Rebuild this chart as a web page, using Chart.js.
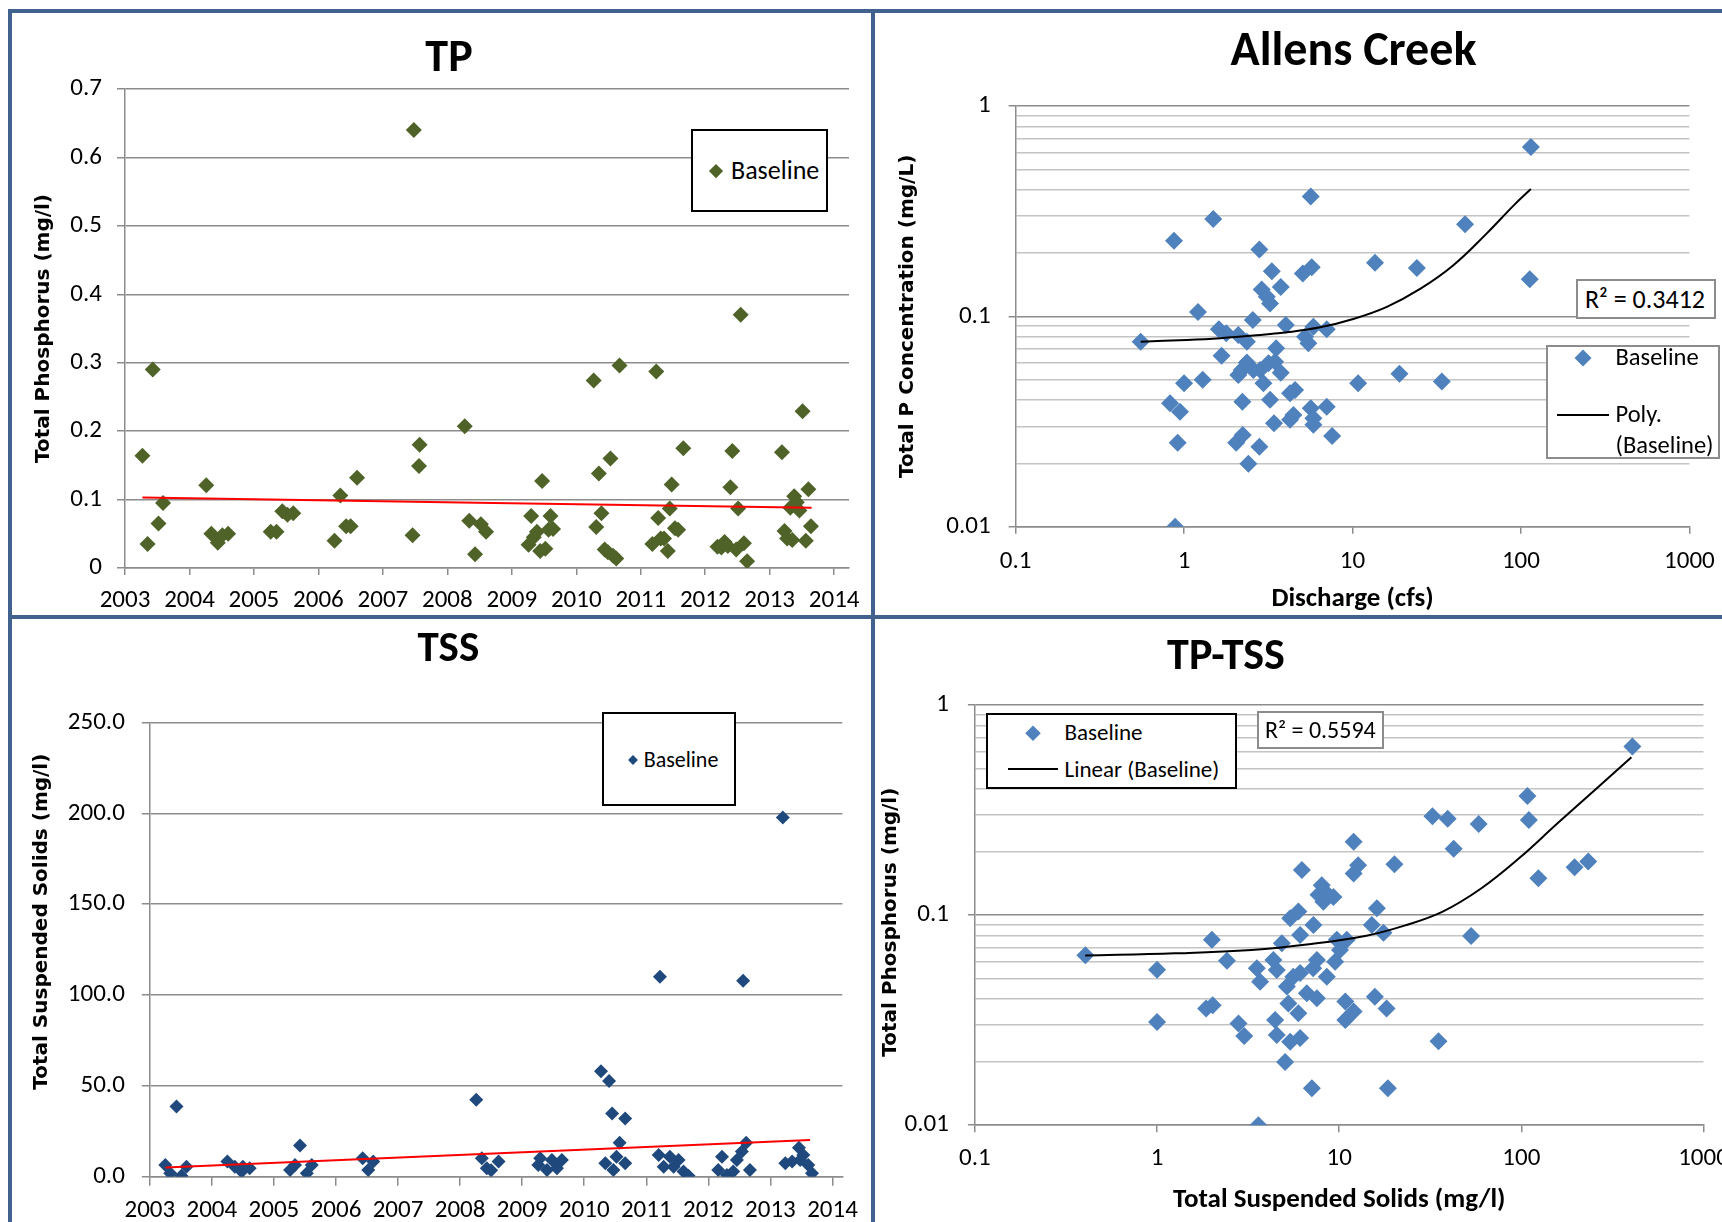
<!DOCTYPE html>
<html>
<head>
<meta charset="utf-8">
<script src="https://cdn.jsdelivr.net/npm/chart.js@4.4.1/dist/chart.umd.min.js"></script>
<style>
  html, body { margin: 0; padding: 0; background: #fff; }
  body { width: 1722px; height: 1222px; overflow: hidden; position: relative; font-family: Carlito, Lato, sans-serif; color: #000; }
  canvas { position: absolute; }
  .rule { position: absolute; background: #41618f; }
  .txt { position: absolute; white-space: nowrap; line-height: 1.2; transform: translateY(-50%); }
  .ttl { position: absolute; white-space: nowrap; line-height: 1.2; font-weight: bold; transform: translate(-50%, -50%); }
  .box { position: absolute; box-sizing: border-box; background: #fff; }
  .dia { position: absolute; transform: translate(-50%, -50%) rotate(45deg); }
  .swatch { position: absolute; height: 2px; background: #000; transform: translateY(-50%); }
</style>
</head>
<body>
<canvas id="tpChart" width="859" height="602" style="left:12px;top:13px"></canvas>
<canvas id="acChart" width="900" height="602" style="left:875px;top:13px"></canvas>
<canvas id="tssChart" width="859" height="620" style="left:12px;top:619px"></canvas>
<canvas id="tptssChart" width="900" height="620" style="left:875px;top:619px"></canvas>

<div class="rule" style="left:8px;top:9px;width:1714px;height:4px"></div>
<div class="rule" style="left:8px;top:9px;width:4px;height:1213px"></div>
<div class="rule" style="left:871px;top:9px;width:4px;height:1213px"></div>
<div class="rule" style="left:8px;top:615px;width:1714px;height:4px"></div>

<script>
// ---- TP over time (mg/l) ----
const tpYear = [2003.27, 2003.35, 2003.43, 2003.52, 2003.59, 2004.26, 2004.34, 2004.44, 2004.51, 2004.60,
  2005.26, 2005.35, 2005.44, 2005.52, 2005.61, 2006.25, 2006.34, 2006.43, 2006.50, 2006.60,
  2007.46, 2007.48, 2007.56, 2007.57, 2008.27, 2008.34, 2008.43, 2008.52, 2008.60,
  2009.26, 2009.30, 2009.34, 2009.39, 2009.44, 2009.47, 2009.52, 2009.57, 2009.60, 2009.64,
  2010.27, 2010.31, 2010.35, 2010.39, 2010.44, 2010.49, 2010.53, 2010.57, 2010.62, 2010.67,
  2011.18, 2011.24, 2011.27, 2011.31, 2011.36, 2011.42, 2011.45, 2011.48, 2011.53, 2011.58, 2011.66,
  2012.19, 2012.25, 2012.30, 2012.35, 2012.39, 2012.42, 2012.48, 2012.51, 2012.55, 2012.60, 2012.65,
  2013.19, 2013.23, 2013.27, 2013.32, 2013.35, 2013.38, 2013.42, 2013.46, 2013.51, 2013.56, 2013.60, 2013.64];
const tpValue = [0.164, 0.035, 0.290, 0.065, 0.095, 0.121, 0.050, 0.037, 0.048, 0.050,
  0.053, 0.053, 0.083, 0.078, 0.080, 0.040, 0.106, 0.061, 0.061, 0.132,
  0.048, 0.640, 0.149, 0.180, 0.207, 0.069, 0.020, 0.064, 0.053,
  0.034, 0.076, 0.045, 0.053, 0.025, 0.127, 0.028, 0.056, 0.076, 0.057,
  0.274, 0.060, 0.138, 0.080, 0.027, 0.023, 0.160, 0.018, 0.014, 0.296,
  0.035, 0.287, 0.073, 0.043, 0.043, 0.025, 0.087, 0.122, 0.058, 0.056, 0.175,
  0.031, 0.030, 0.038, 0.032, 0.118, 0.171, 0.027, 0.087, 0.370, 0.036, 0.010,
  0.169, 0.054, 0.043, 0.088, 0.041, 0.105, 0.096, 0.084, 0.229, 0.040, 0.115, 0.061];
const tpTrendYear = [2003.27, 2013.65];
const tpTrendValue = [0.103, 0.088];

// ---- TSS over time (mg/l) ----
const tssYear = [2003.25, 2003.33, 2003.43, 2003.51, 2003.59, 2004.25, 2004.37, 2004.48, 2004.50, 2004.61,
  2005.26, 2005.34, 2005.42, 2005.53, 2005.61, 2006.43, 2006.52, 2006.60,
  2008.26, 2008.35, 2008.43, 2008.50, 2008.62, 2009.26, 2009.29, 2009.40, 2009.48, 2009.56, 2009.64,
  2010.27, 2010.34, 2010.40, 2010.45, 2010.47, 2010.52, 2010.57, 2010.66, 2010.66,
  2011.20, 2011.22, 2011.28, 2011.38, 2011.44, 2011.52, 2011.60, 2011.68,
  2012.16, 2012.22, 2012.30, 2012.40, 2012.46, 2012.54, 2012.56, 2012.61, 2012.67,
  2013.20, 2013.24, 2013.35, 2013.46, 2013.48, 2013.53, 2013.61, 2013.67];
const tssValue = [6.4, 1.9, 38.6, 0.5, 5.5, 8.3, 5.5, 2.8, 5.5, 4.6,
  3.7, 6.4, 17.2, 1.9, 6.4, 10.1, 3.7, 8.3,
  42.3, 10.1, 4.6, 3.5, 8.3, 6.4, 10.1, 3.7, 9.2, 4.6, 9.2,
  58.0, 7.4, 52.6, 34.8, 3.7, 11.0, 18.7, 32.0, 7.4,
  11.9, 110.0, 5.5, 11.0, 5.5, 9.2, 2.8, 0.5,
  3.7, 11.0, 0.9, 2.8, 9.2, 13.8, 107.8, 18.7, 3.7,
  197.6, 7.4, 8.3, 15.9, 9.2, 11.9, 6.4, 1.9];
const tssTrendYear = [2003.25, 2013.64];
const tssTrendValue = [5.0, 20.2];

// ---- Allens Creek: discharge (cfs) vs TP (mg/L) ----
const acFlow = [0.553, 0.872, 1.49, 5.65, 2.80, 3.32, 5.07, 5.73, 3.75, 2.89, 3.10, 3.24, 1.21, 2.56, 1.61,
  1.78, 2.10, 2.36, 4.02, 5.23, 5.86, 7.03, 5.47, 1.67, 3.52, 2.36, 2.10, 2.58, 2.83, 3.17,
  3.47, 3.75, 2.96, 2.20, 1.00, 1.29, 0.826, 0.946, 2.22, 3.24, 4.26, 4.56, 5.65, 7.03, 3.42,
  4.26, 4.46, 5.86, 5.86, 7.57, 0.917, 2.04, 2.23, 2.80, 2.41, 0.885, 10.8, 13.6, 19.0, 24.1,
  33.9, 46.6, 114.5, 112.8];
const acTP = [0.0758, 0.229, 0.290, 0.371, 0.208, 0.164, 0.160, 0.171, 0.138, 0.134, 0.124, 0.115, 0.105, 0.0962, 0.0868,
  0.0832, 0.0816, 0.0758, 0.0910, 0.0800, 0.0893, 0.0868, 0.0745, 0.0650, 0.0705, 0.0603, 0.0526, 0.0556, 0.0556, 0.0598,
  0.0609, 0.0540, 0.0481, 0.0556, 0.0481, 0.0499, 0.0386, 0.0352, 0.0393, 0.0401, 0.0431, 0.0446, 0.0366, 0.0372, 0.0310,
  0.0322, 0.0340, 0.0305, 0.0328, 0.0270, 0.0251, 0.0251, 0.0273, 0.0240, 0.0199, 0.0100, 0.0481, 0.180, 0.0534, 0.170,
  0.0490, 0.274, 0.638, 0.150];
// poly trendline
const acPolyFlow = [0.553, 1.04, 1.64, 2.58, 4.07, 6.42, 10.1, 16.0, 25.2, 39.7, 62.7, 90.3, 114.5];
const acPolyTP = [0.0758, 0.0772, 0.0787, 0.0810, 0.0840, 0.0887, 0.0972, 0.111, 0.135, 0.175, 0.248, 0.336, 0.403];

// ---- TP-TSS: TSS (mg/l) vs TP (mg/l) ----
const ptTSS = [0.404, 1.0, 1.0, 1.86, 2.02, 2.0, 2.42, 2.80, 3.01, 3.53, 3.68, 3.6, 4.35, 4.45, 4.54,
  4.54, 4.84, 5.05, 5.16, 5.26, 5.38, 5.38, 5.60, 5.97, 5.97, 6.10, 6.10, 6.10, 6.24, 6.64,
  7.08, 7.2, 7.22, 7.54, 7.54, 7.7, 8.02, 8.19, 8.55, 8.55, 9.30, 9.5, 9.70, 10.1, 10.8,
  10.8, 11.0, 12.0, 12.0, 12.0, 12.7, 15.1, 15.7, 16.1, 17.5, 18.2, 18.5, 20.1, 32.5, 35.1,
  39.4, 42.5, 53, 58.3, 108, 110, 124, 196, 233, 407];
const ptTP = [0.0644, 0.055, 0.031, 0.036, 0.0373, 0.0763, 0.0607, 0.0305, 0.0266, 0.0559, 0.0482, 0.010, 0.0612, 0.0317, 0.0548,
  0.0269, 0.0735, 0.020, 0.0457, 0.038, 0.0967, 0.025, 0.0509, 0.104, 0.0341, 0.0805, 0.053, 0.026, 0.164, 0.0425,
  0.015, 0.0559, 0.0898, 0.0612, 0.0402, 0.125, 0.139, 0.116, 0.127, 0.0509, 0.122, 0.0601, 0.0763, 0.0683, 0.0388,
  0.0317, 0.0763, 0.224, 0.158, 0.0348, 0.173, 0.0898, 0.0409, 0.108, 0.0826, 0.036, 0.015, 0.175, 0.296, 0.0251,
  0.288, 0.207, 0.0796, 0.272, 0.369, 0.284, 0.150, 0.169, 0.180, 0.636];
// linear trendline (curved on log axes)
const ptFitTSS = [0.403, 1.25, 3.30, 6.82, 14.1, 22.8, 37.0, 60.1, 97.4, 158, 256, 402];
const ptFitTP = [0.0642, 0.0658, 0.0683, 0.0727, 0.0799, 0.0892, 0.104, 0.134, 0.187, 0.274, 0.398, 0.565];

// ---- ticks ----
const yearTicks = [2003, 2004, 2005, 2006, 2007, 2008, 2009, 2010, 2011, 2012, 2013, 2014];
const yearLabels = ['2003', '2004', '2005', '2006', '2007', '2008', '2009', '2010', '2011', '2012', '2013', '2014'];
const tpTicks = [0, 0.1, 0.2, 0.3, 0.4, 0.5, 0.6, 0.7];
const tpLabels = ['0', '0.1', '0.2', '0.3', '0.4', '0.5', '0.6', '0.7'];
const tssTicks = [0, 50, 100, 150, 200, 250];
const tssLabels = ['0.0', '50.0', '100.0', '150.0', '200.0', '250.0'];
const logYTicks = [0.01, 0.02, 0.03, 0.04, 0.05, 0.06, 0.07, 0.08, 0.09,
  0.1, 0.2, 0.3, 0.4, 0.5, 0.6, 0.7, 0.8, 0.9, 1];
const logYLabels = ['0.01', '', '', '', '', '', '', '', '',
  '0.1', '', '', '', '', '', '', '', '', '1'];
const logXTicks = [0.1, 1, 10, 100, 1000];
const logXLabels = ['0.1', '1', '10', '100', '1000'];

const GRID = '#8c8c8c';
const MINOR = '#c4c4c4';
const FONT = 'Carlito, Lato, sans-serif';
const YTITLE_FONT = { family: '"DejaVu Sans", Verdana, sans-serif', size: 20, weight: 'bold' };
const XTITLE_FONT = { family: FONT, size: 27, weight: 'bold' };
const NBSP = '\u00a0';

function pts(xs, ys) {
  return xs.map((x, i) => ({ x: x, y: ys[i] }));
}

function isDecade(v) {
  const l = Math.log10(v);
  return Math.abs(l - Math.round(l)) < 1e-6;
}

function isMinor(c, log) {
  return log && c.tick && !isDecade(c.tick.value);
}

// one axis; size = fixed width (vertical) or height (horizontal) of the scale box
function axis(o) {
  const log = o.type === 'logarithmic';
  return {
    type: o.type || 'linear',
    min: o.min,
    max: o.max,
    afterBuildTicks: s => { s.ticks = o.ticks.map(v => ({ value: v })); },
    afterFit: s => { if (s.isHorizontal()) s.height = o.size; else s.width = o.size; },
    ticks: {
      autoSkip: false, maxRotation: 0, color: '#000',
      font: { family: FONT, size: 25 },
      padding: o.pad,
      callback: (v, i) => o.labels[i]
    },
    grid: {
      drawOnChartArea: !!o.gridOn,
      tickLength: o.tickLen,
      lineWidth: 1.5,
      color: c => isMinor(c, log) ? MINOR : GRID,
      tickColor: c => isMinor(c, log) ? 'rgba(0,0,0,0)' : GRID
    },
    border: { color: GRID, width: 1.5 },
    title: o.title ? {
      display: true, text: o.title, color: '#000', font: o.titleFont,
      padding: o.titlePad
    } : { display: false }
  };
}

function scatter(id, o) {
  return new Chart(document.getElementById(id), {
    type: 'scatter',
    data: {
      datasets: [{
        label: o.fitLabel,
        data: pts(o.fitX, o.fitY),
        showLine: true,
        pointRadius: 0,
        borderColor: o.fitColor,
        borderWidth: 2,
        tension: 0.4,
        order: 0
      }, {
        label: 'Baseline',
        data: pts(o.x, o.y),
        pointStyle: 'rectRot',
        pointRadius: o.radius,
        backgroundColor: o.color,
        borderColor: o.color,
        borderWidth: 0,
        order: 1
      }]
    },
    options: {
      responsive: false,
      animation: false,
      events: [],
      layout: { padding: o.pad },
      plugins: {
        legend: { display: false },
        title: { display: false },
        tooltip: { enabled: false }
      },
      scales: { x: o.xAxis, y: o.yAxis }
    }
  });
}

scatter('tpChart', {
  x: tpYear, y: tpValue, color: '#4f6228', radius: 8,
  fitX: tpTrendYear, fitY: tpTrendValue, fitColor: '#ff0000', fitLabel: 'Linear (Baseline)',
  pad: { left: 0, top: 76, right: 22, bottom: 0 },
  xAxis: axis({ min: 2003, max: 2014.23, ticks: yearTicks, labels: yearLabels, size: 47, pad: 11, tickLen: 7 }),
  yAxis: axis({ min: 0, max: 0.7, ticks: tpTicks, labels: tpLabels, size: 113, pad: 15, tickLen: 8, gridOn: true,
    title: 'Total Phosphorus (mg/l)', titleFont: YTITLE_FONT, titlePad: { top: 20, bottom: 0 } })
});

scatter('acChart', {
  x: acFlow, y: acTP, color: '#4f81bd', radius: 9,
  fitX: acPolyFlow, fitY: acPolyTP, fitColor: '#000', fitLabel: 'Poly. (Baseline)',
  pad: { left: 0, top: 93, right: 85.6, bottom: 0 },
  xAxis: axis({ type: 'logarithmic', min: 0.1, max: 1000, ticks: logXTicks, labels: logXLabels, size: 88.3, pad: 12.8, tickLen: 7,
    title: 'Discharge (cfs)', titleFont: XTITLE_FONT, titlePad: { top: 0, bottom: 0 } }),
  yAxis: axis({ type: 'logarithmic', min: 0.01, max: 1, ticks: logYTicks, labels: logYLabels, size: 140.6, pad: 18, tickLen: 7, gridOn: true,
    title: 'Total P Concentration (mg/L)', titleFont: YTITLE_FONT, titlePad: { top: 21, bottom: 0 } })
});

scatter('tssChart', {
  x: tssYear, y: tssValue, color: '#1f497d', radius: 7,
  fitX: tssTrendYear, fitY: tssTrendValue, fitColor: '#ff0000', fitLabel: 'Linear (Baseline)',
  pad: { left: 0, top: 103.4, right: 28.6, bottom: 0 },
  xAxis: axis({ min: 2003, max: 2014.16, ticks: yearTicks, labels: yearLabels, size: 62.3, pad: 10.3, tickLen: 9 }),
  // leading spaces lift the title to sit where the original has it
  yAxis: axis({ min: 0, max: 250, ticks: tssTicks, labels: tssLabels, size: 137.8, pad: 17, tickLen: 8, gridOn: true,
    title: NBSP.repeat(8) + 'Total Suspended Solids (mg/l)', titleFont: YTITLE_FONT, titlePad: { top: 17.6, bottom: 0 } })
});

scatter('tptssChart', {
  x: ptTSS, y: ptTP, color: '#4f81bd', radius: 9,
  fitX: ptFitTSS, fitY: ptFitTP, fitColor: '#000', fitLabel: 'Linear (Baseline)',
  pad: { left: 0, top: 86.2, right: 71.5, bottom: 0 },
  xAxis: axis({ type: 'logarithmic', min: 0.1, max: 1000, ticks: logXTicks, labels: logXLabels, size: 113.8, pad: 11.2, tickLen: 7,
    title: 'Total Suspended Solids (mg/l)', titleFont: XTITLE_FONT, titlePad: { top: 0, bottom: 22.8 } }),
  // trailing spaces drop the title a little
  yAxis: axis({ type: 'logarithmic', min: 0.01, max: 1, ticks: logYTicks, labels: logYLabels, size: 99.9, pad: 19, tickLen: 7, gridOn: true,
    title: 'Total Phosphorus (mg/l)' + NBSP.repeat(2), titleFont: YTITLE_FONT, titlePad: { top: 3.6, bottom: 0 } })
});

// ---- titles, legends and R² boxes as page text ----
function el(cls, css, text) {
  const d = document.createElement('div');
  d.className = cls;
  d.style.cssText = css;
  if (text) d.textContent = text;
  document.body.appendChild(d);
}
function title(text, cx, cy, size) {
  el('ttl', `left:${cx}px;top:${cy}px;font-size:${size}px`, text);
}
function box(x, y, w, h, color) {
  el('box', `left:${x}px;top:${y}px;width:${w}px;height:${h}px;border:2px solid ${color}`);
}
function diamond(cx, cy, r, color) {
  const s = r * Math.SQRT2;
  el('dia', `left:${cx}px;top:${cy}px;width:${s}px;height:${s}px;background:${color}`);
}
function text(t, x, cy, size) {
  el('txt', `left:${x}px;top:${cy}px;font-size:${size}px`, t);
}
function swatch(x, cy, w) {
  el('swatch', `left:${x}px;top:${cy}px;width:${w}px`);
}

title('TP', 449, 56, 46);
box(691, 129, 137, 83, '#000');
diamond(716, 171, 7, '#4f6228');
text('Baseline', 731, 171, 26);

title('Allens Creek', 1353.5, 49, 48);
box(1576, 279, 140, 40, '#8c8c8c');
text('R² = 0.3412', 1585, 300, 26);
box(1546, 345, 174, 114, '#8c8c8c');
diamond(1583, 358, 8.5, '#4f81bd');
text('Baseline', 1615.5, 358, 24.5);
swatch(1557, 415, 52);
text('Poly.', 1615.5, 415, 24.5);
text('(Baseline)', 1615.5, 446, 24.5);

title('TSS', 448.4, 647, 43);
box(602, 712, 134, 94, '#000');
diamond(632.6, 759.5, 5, '#1f497d');
text('Baseline', 643.7, 759.5, 22);

title('TP-TSS', 1226, 653.7, 44);
box(985.7, 713.4, 251, 76, '#000');
diamond(1033, 733, 7.5, '#4f81bd');
text('Baseline', 1064.5, 733, 23);
swatch(1007.5, 769.3, 50);
text('Linear (Baseline)', 1064.5, 769.5, 23);
box(1257, 711, 126.5, 38, '#8c8c8c');
text('R² = 0.5594', 1265, 730.2, 24);
</script>
</body>
</html>
